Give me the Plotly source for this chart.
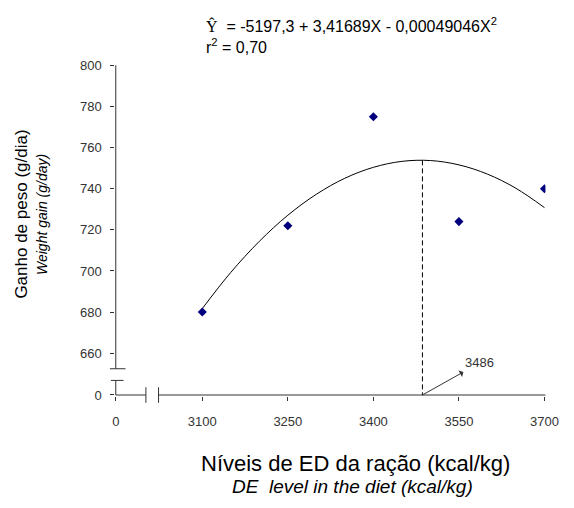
import plotly.graph_objects as go

# ---------------- data ----------------
levels = [3100, 3250, 3400, 3550, 3700]          # DE level (kcal/kg)
weight_gain = [680, 722, 775, 724, 740]          # observed weight gain (g/day)

# fitted quadratic curve
curve_x = [3100, 3150, 3200, 3250, 3300, 3350, 3400, 3450, 3500, 3550, 3600, 3650, 3700]
curve_y = [681.7, 699.3, 714.4, 727.1, 737.3, 745.1, 750.4, 753.3, 753.7, 751.6, 747.1, 740.2, 730.8]

peak_x = 3486
peak_y = 753.8

y_ticks = [660, 680, 700, 720, 740, 760, 780, 800]
x_ticks = [3100, 3250, 3400, 3550, 3700]

# ---------------- layout helpers (pixel anchors) ----------------
W, H = 574, 508
def px(v):  # x value -> pixel
    return 205 + (v - 3100) * (264 / 450)
def py(v):  # y value -> pixel
    return 356 - (v - 660) * (296 / 140)

X_ZERO = 3100 - (205 - 116) / (264 / 450)    # where broken-axis "0" sits on x
Y_ZERO = 660 - (399 - 356) / (296 / 140)      # where broken-axis "0" sits on y

xr = [X_ZERO - 0.6, 3701.7]
yr = [Y_ZERO - 0.3, 800.3]

x_dom = [px(xr[0]) / W, px(xr[1]) / W]
y_dom = [1 - py(yr[0]) / H, 1 - py(yr[1]) / H]

def pxp(p):  # pixel x -> paper
    return p / W
def pyp(p):  # pixel y -> paper
    return 1 - p / H

SANS = "Liberation Sans, Arial, sans-serif"
tick_font = dict(family=SANS, size=13, color="#333333")

fig = go.Figure()

fig.add_trace(go.Scatter(
    x=curve_x, y=curve_y, mode="lines",
    line=dict(color="black", width=1, shape="spline"),
    hoverinfo="skip", showlegend=False))

fig.add_trace(go.Scatter(
    x=[peak_x, peak_x], y=[peak_y, Y_ZERO], mode="lines",
    line=dict(color="black", width=1, dash="5px,3px"),
    hoverinfo="skip", showlegend=False))

fig.add_trace(go.Scatter(
    x=levels, y=weight_gain, mode="markers",
    marker=dict(symbol="diamond", size=7, color="#00007f"),
    showlegend=False))

fig.update_layout(
    width=W, height=H,
    margin=dict(l=0, r=0, t=0, b=0),
    paper_bgcolor="white", plot_bgcolor="white",
    showlegend=False,
    xaxis=dict(
        domain=x_dom, range=xr, anchor="y",
        tickvals=[X_ZERO] + x_ticks,
        ticktext=["0"] + [str(t) for t in x_ticks],
        ticks="outside", ticklen=4, tickcolor="#333333", tickwidth=1,
        ticklabelstandoff=10,
        showline=False, showgrid=False, zeroline=False,
        tickfont=tick_font),
    yaxis=dict(
        domain=y_dom, range=yr, anchor="x",
        tickvals=[Y_ZERO] + y_ticks,
        ticktext=["0"] + [str(t) for t in y_ticks],
        ticks="outside", ticklen=4, tickcolor="#333333", tickwidth=1,
        ticklabelstandoff=6,
        showline=False, showgrid=False, zeroline=False,
        tickfont=tick_font),
)

# broken axis lines (decorative)
lc = dict(color="#333333", width=1)
segs = [
    # x axis
    (116, 399, 147, 399), (147, 391, 147, 407), (160, 391, 160, 407), (160, 399, 558, 399),
    # y axis
    (116, 60, 116, 372), (110, 372, 126, 372), (111, 384, 124, 384), (116, 384, 116, 399),
]
for x0, y0, x1, y1 in segs:
    fig.add_shape(type="line", xref="paper", yref="paper",
                  x0=pxp(x0), y0=pyp(y0), x1=pxp(x1), y1=pyp(y1), line=lc)

# arrow to optimum
fig.add_annotation(
    x=peak_x, y=Y_ZERO, xref="x", yref="y",
    ax=57, ay=-32, text=str(peak_x), showarrow=True,
    arrowside="start", startarrowhead=1, startarrowsize=1.2, arrowwidth=1, arrowcolor="#333333",
    font=dict(family=SANS, size=13, color="#333333"))

# equation
fig.add_annotation(
    xref="paper", yref="paper", x=pxp(207), y=pyp(29), xanchor="left", yanchor="middle",
    showarrow=False, align="left",
    text="<span style='font-family:Liberation Serif'>\u0176</span>\u00a0\u00a0= -5197,3 + 3,41689X - 0,00049046X<sup>2</sup>"
         "<br>r<sup>2</sup> = 0,70",
    font=dict(family=SANS, size=16, color="black"))

# axis titles
fig.add_annotation(
    xref="paper", yref="paper", x=pxp(19), y=pyp(213), textangle=-90, showarrow=False,
    text="Ganho de peso (g/dia)", xanchor="center", yanchor="middle",
    font=dict(family=SANS, size=17, color="black"))
fig.add_annotation(
    xref="paper", yref="paper", x=pxp(40), y=pyp(213), textangle=-90, showarrow=False,
    text="<i>Weight gain (g/day)</i>", xanchor="center", yanchor="middle",
    font=dict(family=SANS, size=14, color="black"))
fig.add_annotation(
    xref="paper", yref="paper", x=pxp(202), y=pyp(469), xanchor="left", yanchor="middle",
    showarrow=False, text="Níveis de ED da ração (kcal/kg)",
    font=dict(family=SANS, size=22, color="black"))
fig.add_annotation(
    xref="paper", yref="paper", x=pxp(233), y=pyp(493), xanchor="left", yanchor="middle",
    showarrow=False, text="<i>DE\u00a0\u00a0level in the diet (kcal/kg)</i>",
    font=dict(family=SANS, size=19, color="black"))

fig.write_html("out.html")
